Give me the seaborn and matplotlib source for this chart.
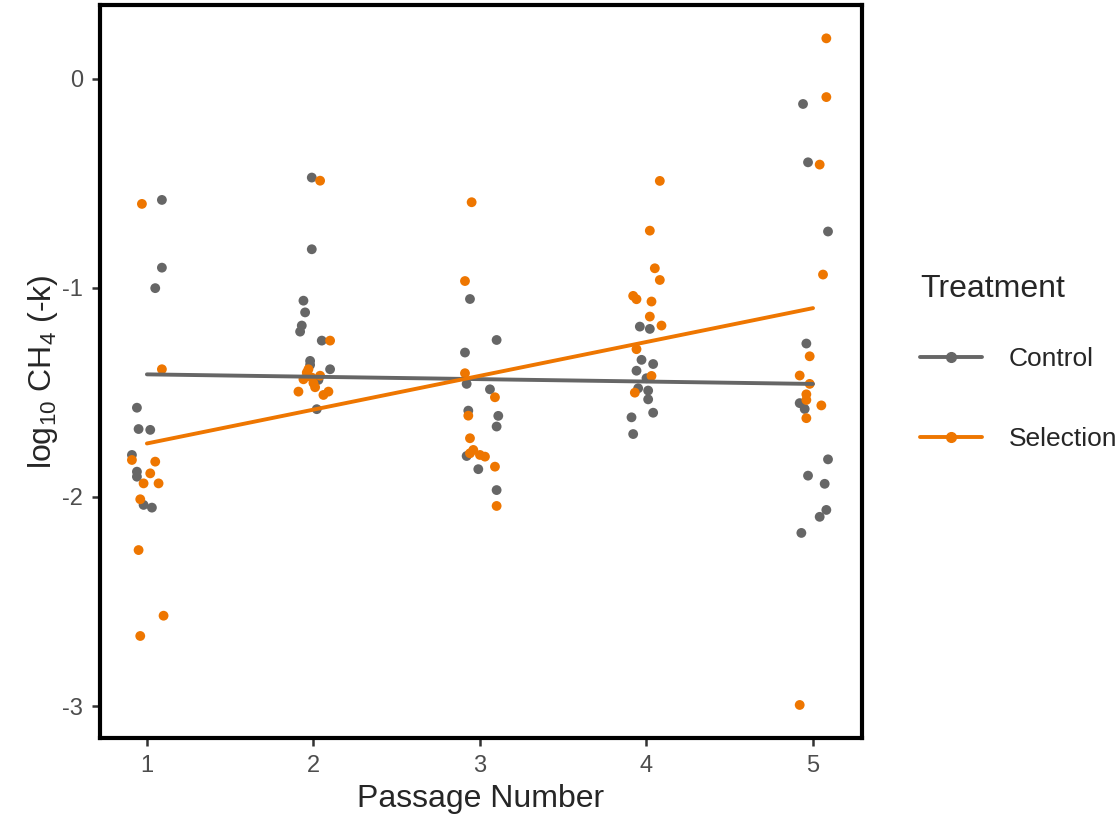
import numpy as np
import pandas as pd
import matplotlib
matplotlib.use("Agg")
import matplotlib.pyplot as plt
from matplotlib.lines import Line2D
import seaborn as sns

# jittered positions and log10 CH4 values
ctrl_x = [1.09, 1.09, 1.05, 0.94, 0.95, 1.02, 0.91, 0.94, 0.94, 0.98, 1.03,
          1.99, 1.99, 1.94, 1.95, 1.93, 1.92, 2.05, 1.98, 1.98, 2.10, 2.03, 2.02,
          2.94, 3.10, 2.91, 2.92, 3.06, 2.93, 3.11, 3.10, 2.92, 2.99, 3.10,
          3.96, 4.02, 3.97, 4.04, 3.94, 4.00, 3.95, 4.01, 4.01, 4.04, 3.91, 3.92,
          4.94, 4.97, 5.09, 4.96, 4.92, 4.95, 5.09, 4.97, 5.07, 5.08, 5.04, 4.93]
ctrl_y = [-0.579, -0.903, -1.001, -1.573, -1.675, -1.679, -1.799, -1.879, -1.903, -2.038, -2.051,
          -0.472, -0.815, -1.061, -1.117, -1.180, -1.209, -1.252, -1.349, -1.368, -1.389, -1.440, -1.580,
          -1.053, -1.249, -1.309, -1.459, -1.485, -1.587, -1.612, -1.663, -1.804, -1.867, -1.967,
          -1.185, -1.196, -1.344, -1.364, -1.396, -1.432, -1.480, -1.491, -1.533, -1.597, -1.619, -1.699,
          -0.120, -0.399, -0.730, -1.266, -1.551, -1.579, -1.820, -1.898, -1.937, -2.062, -2.095, -2.172]

sel_x = [0.97, 1.09, 0.91, 1.05, 1.02, 0.98, 1.07, 0.96, 0.95, 1.10, 0.96,
         2.04, 2.10, 1.97, 1.94, 1.99, 2.01, 1.91, 2.06, 2.09, 1.96, 2.00, 2.04,
         2.95, 2.91, 2.91, 3.09, 2.93, 2.94, 2.96, 2.94, 3.00, 3.03, 3.09, 3.10,
         4.08, 4.02, 4.05, 4.08, 3.92, 3.94, 4.03, 4.02, 4.09, 3.94, 4.03, 3.93,
         5.08, 5.08, 5.04, 5.06, 4.98, 4.92, 4.98, 4.96, 4.96, 5.05, 4.96, 4.92]
sel_y = [-0.598, -1.389, -1.823, -1.831, -1.887, -1.935, -1.935, -2.011, -2.254, -2.568, -2.665,
         -0.487, -1.252, -1.389, -1.437, -1.429, -1.475, -1.496, -1.512, -1.496, -1.405, -1.455, -1.420,
         -0.590, -0.967, -1.408, -1.523, -1.611, -1.719, -1.775, -1.791, -1.799, -1.807, -1.855, -2.043,
         -0.488, -0.726, -0.906, -0.962, -1.038, -1.054, -1.065, -1.137, -1.180, -1.293, -1.421, -1.501,
         0.194, -0.087, -0.410, -0.936, -1.327, -1.419, -1.459, -1.509, -1.536, -1.562, -1.623, -2.995]

groups = ["Control", "Selection"]
colours = {"Control": "#666666", "Selection": "#EE7600"}

df = pd.concat([
    pd.DataFrame({"x": ctrl_x, "y": ctrl_y, "Treatment": "Control"}),
    pd.DataFrame({"x": sel_x, "y": sel_y, "Treatment": "Selection"}),
], ignore_index=True)
df["Passage"] = np.rint(df["x"]).astype(int)

sns.set_theme(style="white")
plt.rcParams["font.family"] = ["Liberation Sans", "DejaVu Sans"]
plt.rcParams["mathtext.default"] = "regular"

fig = plt.figure(figsize=(11.18, 8.16), dpi=100)
ax = fig.add_axes([0.0894, 0.0956, 0.6816, 0.8984])

sns.scatterplot(data=df, x="x", y="y", hue="Treatment", palette=colours,
                hue_order=groups, s=50, linewidth=0, ax=ax, legend=False, zorder=2)

# linear fit per treatment on the (un-jittered) passage number
for g in groups:
    sub = df[df["Treatment"] == g]
    sns.regplot(data=sub, x="Passage", y="y", scatter=False, ci=None, ax=ax,
                line_kws={"color": colours[g], "lw": 2.8, "zorder": 3})

ax.set_xlim(0.718, 5.294)
ax.set_ylim(-3.153, 0.354)
ax.set_xticks([1, 2, 3, 4, 5])
ax.set_yticks([0, -1, -2, -3])
ax.set_yticklabels(["0", "-1", "-2", "-3"])
ax.tick_params(axis="both", which="both", direction="out", length=6, width=1.8,
               color="#333333", labelsize=17, labelcolor="#4D4D4D", pad=6,
               left=True, bottom=True)
for s in ax.spines.values():
    s.set_color("black")
    s.set_linewidth(3)

ax.set_xlabel("Passage Number", fontsize=23, labelpad=5)
ax.set_ylabel("log$_{10}$ CH$_4$ (-k)", fontsize=23, labelpad=2)

handles = [Line2D([], [], color=colours[g], lw=2.8, marker="o", markersize=7) for g in groups]
leg = ax.legend(handles, groups, title="Treatment", loc="center left",
                bbox_to_anchor=(1.045, 0.512), frameon=False, fontsize=19,
                title_fontsize=23, labelspacing=2.1, handlelength=2.35,
                handletextpad=1.0)
leg._legend_box.align = "left"
leg._legend_box.sep = 31

fig.savefig("out.png", dpi=100)
